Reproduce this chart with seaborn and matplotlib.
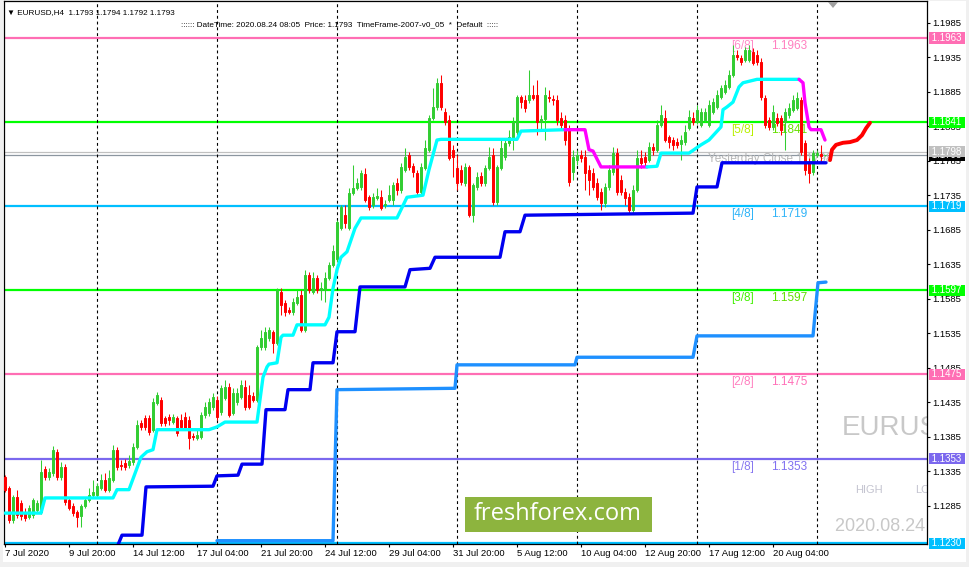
import numpy as np
import pandas as pd
import matplotlib
matplotlib.use('Agg')
import matplotlib.pyplot as plt
import matplotlib.transforms as mtransforms
from matplotlib.patches import Rectangle, Polygon
import seaborn as sns

sns.set_style('white')
plt.rcParams['font.family'] = ['Liberation Sans', 'DejaVu Sans']

# EURUSD H4 candles, bar 1 = 7 Jul 2020 04:00 (bar index, no weekend gaps)
opens = [1.1326, 1.1310, 1.1264, 1.1297, 1.1289, 1.1276, 1.1268, 1.1271, 1.1279, 1.1276,
         1.1338, 1.1326, 1.1332, 1.1363, 1.1326, 1.1341, 1.1293, 1.1284, 1.1276, 1.1270,
         1.1284, 1.1293, 1.1300, 1.1300, 1.1310, 1.1322, 1.1308, 1.1322, 1.1366, 1.1344,
         1.1347, 1.1344, 1.1348, 1.1370, 1.1405, 1.1412, 1.1412, 1.1395, 1.1434, 1.1438,
         1.1412, 1.1413, 1.1406, 1.1412, 1.1409, 1.1413, 1.1409, 1.1386, 1.1383, 1.1384,
         1.1416, 1.1419, 1.1428, 1.1438, 1.1421, 1.1441, 1.1457, 1.1419, 1.1435, 1.1442,
         1.1457, 1.1445, 1.1444, 1.1438, 1.1515, 1.1515, 1.1528, 1.1537, 1.1521, 1.1595,
         1.1579, 1.1569, 1.1566, 1.1579, 1.1590, 1.1540, 1.1619, 1.1595, 1.1615, 1.1598,
         1.1598, 1.1615, 1.1634, 1.1642, 1.1687, 1.1706, 1.1687, 1.1738, 1.1745, 1.1747,
         1.1766, 1.1732, 1.1721, 1.1731, 1.1732, 1.1721, 1.1728, 1.1728, 1.1753, 1.1743,
         1.1772, 1.1793, 1.1777, 1.1767, 1.1740, 1.1774, 1.1801, 1.1847, 1.1863, 1.1898,
         1.1856, 1.1844, 1.1801, 1.1774, 1.1772, 1.1753, 1.1776, 1.1706, 1.1747, 1.1763,
         1.1753, 1.1774, 1.1793, 1.1725, 1.1774, 1.1790, 1.1811, 1.1815, 1.1827, 1.1877,
         1.1873, 1.1873, 1.1880, 1.1880, 1.1841, 1.1845, 1.1877, 1.1874, 1.1873, 1.1847,
         1.1844, 1.1830, 1.1769, 1.1786, 1.1793, 1.1790, 1.1772, 1.1767, 1.1753, 1.1740,
         1.1724, 1.1747, 1.1769, 1.1796, 1.1757, 1.1740, 1.1732, 1.1714, 1.1743, 1.1789,
         1.1790, 1.1786, 1.1805, 1.1801, 1.1837, 1.1847, 1.1819, 1.1815, 1.1812, 1.1809,
         1.1812, 1.1832, 1.1847, 1.1841, 1.1837, 1.1844, 1.1837, 1.1856, 1.1863, 1.1877,
         1.1885, 1.1892, 1.1909, 1.1938, 1.1934, 1.1931, 1.1931, 1.1943, 1.1938, 1.1928,
         1.1876, 1.1844, 1.1834, 1.1847, 1.1847, 1.1841, 1.1851, 1.1859, 1.1861, 1.1873,
         1.1811, 1.1782, 1.1769, 1.1793, 1.1795, 1.1793]
highs = [1.1329, 1.1313, 1.1300, 1.1308, 1.1293, 1.1281, 1.1286, 1.1296, 1.1293, 1.1351,
         1.1342, 1.1339, 1.1371, 1.1367, 1.1348, 1.1345, 1.1297, 1.1289, 1.1279, 1.1287,
         1.1297, 1.1310, 1.1322, 1.1318, 1.1331, 1.1332, 1.1337, 1.1373, 1.1370, 1.1351,
         1.1352, 1.1358, 1.1376, 1.1409, 1.1409, 1.1416, 1.1416, 1.1441, 1.1450, 1.1442,
         1.1415, 1.1418, 1.1418, 1.1415, 1.1418, 1.1421, 1.1415, 1.1390, 1.1395, 1.1421,
         1.1435, 1.1441, 1.1448, 1.1444, 1.1460, 1.1467, 1.1463, 1.1455, 1.1455, 1.1467,
         1.1467, 1.1460, 1.1450, 1.1518, 1.1540, 1.1544, 1.1544, 1.1540, 1.1600, 1.1600,
         1.1583, 1.1573, 1.1586, 1.1598, 1.1598, 1.1627, 1.1624, 1.1624, 1.1619, 1.1609,
         1.1624, 1.1638, 1.1663, 1.1699, 1.1721, 1.1721, 1.1745, 1.1779, 1.1760, 1.1772,
         1.1774, 1.1735, 1.1738, 1.1745, 1.1743, 1.1728, 1.1750, 1.1754, 1.1760, 1.1782,
         1.1803, 1.1798, 1.1782, 1.1772, 1.1782, 1.1815, 1.1851, 1.1890, 1.1905, 1.1909,
         1.1861, 1.1851, 1.1808, 1.1793, 1.1779, 1.1782, 1.1779, 1.1753, 1.1769, 1.1769,
         1.1779, 1.1805, 1.1803, 1.1779, 1.1815, 1.1818, 1.1830, 1.1848, 1.1880, 1.1880,
         1.1880, 1.1917, 1.1895, 1.1902, 1.1851, 1.1892, 1.1888, 1.1880, 1.1880, 1.1856,
         1.1851, 1.1837, 1.1801, 1.1801, 1.1801, 1.1801, 1.1779, 1.1774, 1.1760, 1.1745,
         1.1753, 1.1779, 1.1805, 1.1803, 1.1764, 1.1745, 1.1738, 1.1750, 1.1801, 1.1801,
         1.1798, 1.1812, 1.1811, 1.1844, 1.1866, 1.1859, 1.1822, 1.1819, 1.1818, 1.1822,
         1.1837, 1.1859, 1.1856, 1.1866, 1.1861, 1.1861, 1.1873, 1.1876, 1.1888, 1.1895,
         1.1902, 1.1917, 1.1953, 1.1946, 1.1938, 1.1950, 1.1953, 1.1948, 1.1946, 1.1934,
         1.1880, 1.1848, 1.1866, 1.1854, 1.1851, 1.1861, 1.1869, 1.1880, 1.1885, 1.1877,
         1.1815, 1.1789, 1.1801, 1.1801, 1.1808, 1.1794]
lows = [1.1305, 1.1260, 1.1260, 1.1267, 1.1264, 1.1263, 1.1265, 1.1267, 1.1276, 1.1273,
        1.1322, 1.1322, 1.1328, 1.1322, 1.1322, 1.1286, 1.1279, 1.1270, 1.1254, 1.1254,
        1.1281, 1.1290, 1.1297, 1.1296, 1.1308, 1.1305, 1.1305, 1.1319, 1.1337, 1.1337,
        1.1337, 1.1339, 1.1344, 1.1367, 1.1395, 1.1395, 1.1387, 1.1392, 1.1431, 1.1400,
        1.1400, 1.1402, 1.1403, 1.1386, 1.1395, 1.1395, 1.1367, 1.1380, 1.1380, 1.1381,
        1.1412, 1.1415, 1.1424, 1.1409, 1.1416, 1.1438, 1.1413, 1.1416, 1.1431, 1.1439,
        1.1424, 1.1425, 1.1435, 1.1435, 1.1511, 1.1511, 1.1524, 1.1506, 1.1518, 1.1561,
        1.1560, 1.1563, 1.1561, 1.1576, 1.1537, 1.1537, 1.1593, 1.1592, 1.1593, 1.1583,
        1.1580, 1.1612, 1.1631, 1.1638, 1.1685, 1.1687, 1.1685, 1.1735, 1.1743, 1.1743,
        1.1725, 1.1714, 1.1716, 1.1728, 1.1714, 1.1716, 1.1725, 1.1721, 1.1735, 1.1738,
        1.1769, 1.1772, 1.1761, 1.1735, 1.1735, 1.1772, 1.1798, 1.1844, 1.1859, 1.1859,
        1.1837, 1.1786, 1.1761, 1.1743, 1.1750, 1.1748, 1.1703, 1.1696, 1.1743, 1.1748,
        1.1748, 1.1772, 1.1721, 1.1721, 1.1772, 1.1786, 1.1806, 1.1801, 1.1822, 1.1861,
        1.1856, 1.1869, 1.1873, 1.1822, 1.1830, 1.1815, 1.1870, 1.1866, 1.1837, 1.1830,
        1.1808, 1.1748, 1.1757, 1.1779, 1.1783, 1.1743, 1.1735, 1.1743, 1.1728, 1.1714,
        1.1718, 1.1743, 1.1764, 1.1735, 1.1735, 1.1721, 1.1709, 1.1709, 1.1740, 1.1774,
        1.1776, 1.1783, 1.1793, 1.1798, 1.1834, 1.1812, 1.1803, 1.1801, 1.1803, 1.1786,
        1.1808, 1.1830, 1.1837, 1.1838, 1.1834, 1.1841, 1.1834, 1.1853, 1.1860, 1.1874,
        1.1882, 1.1889, 1.1906, 1.1931, 1.1924, 1.1928, 1.1928, 1.1924, 1.1924, 1.1873,
        1.1832, 1.1830, 1.1830, 1.1835, 1.1822, 1.1801, 1.1847, 1.1856, 1.1859, 1.1793,
        1.1764, 1.1753, 1.1764, 1.1790, 1.1783, 1.1792]
closes = [1.1308, 1.1264, 1.1297, 1.1271, 1.1270, 1.1267, 1.1281, 1.1293, 1.1289, 1.1334,
          1.1326, 1.1334, 1.1366, 1.1326, 1.1341, 1.1290, 1.1281, 1.1274, 1.1268, 1.1284,
          1.1293, 1.1300, 1.1305, 1.1313, 1.1322, 1.1308, 1.1325, 1.1366, 1.1341, 1.1342,
          1.1341, 1.1350, 1.1370, 1.1402, 1.1399, 1.1399, 1.1392, 1.1435, 1.1445, 1.1405,
          1.1405, 1.1409, 1.1413, 1.1390, 1.1399, 1.1397, 1.1383, 1.1384, 1.1387, 1.1416,
          1.1428, 1.1435, 1.1442, 1.1413, 1.1455, 1.1457, 1.1416, 1.1448, 1.1448, 1.1460,
          1.1428, 1.1428, 1.1438, 1.1515, 1.1528, 1.1537, 1.1540, 1.1521, 1.1598, 1.1576,
          1.1566, 1.1566, 1.1580, 1.1587, 1.1540, 1.1619, 1.1598, 1.1615, 1.1598, 1.1600,
          1.1615, 1.1634, 1.1654, 1.1696, 1.1718, 1.1695, 1.1738, 1.1745, 1.1753, 1.1767,
          1.1728, 1.1718, 1.1732, 1.1734, 1.1716, 1.1722, 1.1735, 1.1750, 1.1743, 1.1776,
          1.1790, 1.1776, 1.1769, 1.1740, 1.1776, 1.1803, 1.1847, 1.1863, 1.1898, 1.1863,
          1.1841, 1.1789, 1.1790, 1.1753, 1.1754, 1.1776, 1.1706, 1.1750, 1.1761, 1.1753,
          1.1774, 1.1790, 1.1725, 1.1776, 1.1803, 1.1811, 1.1819, 1.1841, 1.1877, 1.1870,
          1.1861, 1.1880, 1.1876, 1.1841, 1.1845, 1.1880, 1.1876, 1.1873, 1.1844, 1.1837,
          1.1815, 1.1754, 1.1790, 1.1793, 1.1789, 1.1767, 1.1757, 1.1747, 1.1732, 1.1724,
          1.1747, 1.1772, 1.1796, 1.1740, 1.1740, 1.1731, 1.1714, 1.1743, 1.1789, 1.1782,
          1.1783, 1.1805, 1.1801, 1.1837, 1.1851, 1.1815, 1.1812, 1.1808, 1.1808, 1.1815,
          1.1827, 1.1848, 1.1841, 1.1859, 1.1856, 1.1856, 1.1866, 1.1870, 1.1880, 1.1890,
          1.1895, 1.1909, 1.1938, 1.1935, 1.1928, 1.1946, 1.1946, 1.1927, 1.1928, 1.1877,
          1.1837, 1.1834, 1.1856, 1.1840, 1.1830, 1.1856, 1.1861, 1.1873, 1.1876, 1.1798,
          1.1772, 1.1767, 1.1796, 1.1796, 1.1792, 1.1793]

# trailing stop line: cyan while long, magenta while short
trail_a_x = [1, 10, 11, 28, 29, 32, 35, 36.5, 38, 39, 52, 54, 56, 64, 65.5, 66.5, 67, 69, 70, 70.5,
             73, 74, 81, 82, 83, 84, 85, 86.5, 88.5, 90, 99, 101.5, 105.5, 107, 109, 110, 129, 130, 141]
trail_a_y = [1.1274, 1.1274, 1.1296, 1.1296, 1.1308, 1.1308, 1.1355, 1.1363, 1.1366, 1.1395,
             1.1395, 1.1399, 1.1406, 1.1406, 1.1471, 1.1486, 1.1490, 1.1492, 1.1529, 1.1532,
             1.1532, 1.1547, 1.1547, 1.1558, 1.1600, 1.1627, 1.1645, 1.1653, 1.1687, 1.1702,
             1.1702, 1.1732, 1.1735, 1.1772, 1.1815, 1.1816, 1.1816, 1.1828, 1.1830]
trail_b_x = [141, 146, 147, 148, 150, 161.5]
trail_b_y = [1.1830, 1.1830, 1.1801, 1.1799, 1.1776, 1.1776]
trail_c_x = [161.5, 164, 165, 172, 175, 177, 180, 180.5, 181.5, 183, 184.5, 185.5, 189, 199.5]
trail_c_y = [1.1776, 1.1777, 1.1796, 1.1796, 1.1808, 1.1815, 1.1834, 1.1859, 1.1863, 1.1870,
             1.1892, 1.1898, 1.1903, 1.1903]
trail_d_x = [199.5, 200.5, 201, 202, 202.5, 205, 206]
trail_d_y = [1.1903, 1.1898, 1.1869, 1.1834, 1.1830, 1.1830, 1.1815]

# blue and dodger blue step levels
blue_x = [29.25, 30.25, 35.25, 36.25, 53, 54, 59.25, 60.25, 65.25, 66.25, 71, 71.75, 77.25, 78, 83,
          84, 88.5, 89.75, 101, 102.25, 107.25, 108.5, 124.75, 126, 129.75, 131, 173, 174, 179,
          180.25, 206.25]
blue_y = [1.1228, 1.1242, 1.1242, 1.1312, 1.1313, 1.1328, 1.1329, 1.1345, 1.1345, 1.1424,
          1.1424, 1.1453, 1.1453, 1.1492, 1.1492, 1.1537, 1.1537, 1.1602, 1.1602, 1.1627,
          1.1629, 1.1645, 1.1645, 1.1682, 1.1682, 1.1706, 1.1709, 1.1747, 1.1747, 1.1782, 1.1782]
dodger_x = [54, 83, 84, 113.5, 114, 143.5, 144, 173, 174, 203, 204.25, 206.25]
dodger_y = [1.1234, 1.1234, 1.1453, 1.1455, 1.1489, 1.1489, 1.1500, 1.1500, 1.1531, 1.1531,
            1.1608, 1.1609]

# forecast curve
fc_x = [207.25, 207.75, 208.75, 210.5, 212.25, 214, 215.25, 216.25, 217.25]
fc_y = [1.1786, 1.1801, 1.1808, 1.1811, 1.1812, 1.1815, 1.1822, 1.1832, 1.1840]

# Murrey Math levels
mm_levels = [1.1963, 1.1841, 1.1719, 1.1597, 1.1475, 1.1353, 1.1230]
mm_names = ['[6/8]', '[5/8]', '[4/8]', '[3/8]', '[2/8]', '[1/8]']
mm_colors = ['#FF6EB4', '#00FF00', '#00BFFF', '#00FF00', '#FF6EB4', '#7B68EE', '#00BFFF']
mm_name_colors = ['#FF8CC8', '#B8F000', '#30B4F8', '#40F000', '#FF80C0', '#8878F0']
mm_val_colors = ['#FF80C0', '#66E000', '#30B4F8', '#60E000', '#FF70B8', '#8070F0']
yest_close = 1.1798
bid = 1.1793

week_starts = [24, 54, 84, 114, 144, 174, 204]
xtick_pos = [1, 17, 33, 49, 65, 81, 97, 113, 129, 145, 161, 177, 193]
xtick_labels = ['7 Jul 2020', '9 Jul 20:00', '14 Jul 12:00', '17 Jul 04:00', '21 Jul 20:00',
                '24 Jul 12:00', '29 Jul 04:00', '31 Jul 20:00', '5 Aug 12:00', '10 Aug 04:00',
                '12 Aug 20:00', '17 Aug 12:00', '20 Aug 04:00']
ytick_pos = [1.1285, 1.1335, 1.1385, 1.1435, 1.1485, 1.1535, 1.1585, 1.1635, 1.1685, 1.1735,
             1.1785, 1.1835, 1.1885, 1.1935, 1.1985]

# ---- figure ----
fig = plt.figure(figsize=(9.7, 5.67), dpi=100, facecolor='#F0F0F0')
fig.patches.append(Rectangle((3 / 970, 5 / 567), 963 / 970, 561 / 567, transform=fig.transFigure,
                             fc='white', ec='none', zorder=-5))
ax = fig.add_axes([4 / 970, 23 / 567, 923 / 970, 543 / 567])
ax.set_facecolor('white')
ax.set_xlim(0.75, 231.5)
ax.set_ylim(1.12292, 1.20166)

for lv, c in zip(mm_levels, mm_colors):
    ax.axhline(lv, color=c, lw=1.6, zorder=1.5)
ax.axhline(yest_close, color='#C0C0C0', lw=0.9, zorder=1.6)
ax.axhline(bid, color='#8C96A0', lw=0.9, zorder=1.6)
for w in week_starts:
    ax.axvline(w, color='black', lw=0.8, ls=(0, (2.6, 2.6)), zorder=1.7)

# labels under the levels
for lv, nm, c1, c2 in zip(mm_levels, mm_names, mm_name_colors, mm_val_colors):
    ax.annotate(nm, (182.5, lv), xytext=(0, -8), textcoords='offset pixels', color=c1,
                fontsize=8.5, ha='left', va='center', zorder=2)
    ax.annotate(f'{lv:.4f}', (192.5, lv), xytext=(0, -8), textcoords='offset pixels', color=c2,
                fontsize=8.5, ha='left', va='center', zorder=2)
ax.annotate(f'Yesterday Close {yest_close:.4f}', (176.75, yest_close), xytext=(0, -7),
            textcoords='offset pixels', color='#B8B8B8', fontsize=8.5, ha='left', va='center',
            zorder=2)

# candles
bars = np.arange(1, len(closes) + 1)
o = np.array(opens)
c = np.array(closes)
up = c >= o
col = np.where(up, '#32CD32', '#FF0000')
ax.vlines(bars, lows, highs, colors=col, lw=0.75, zorder=3)
ax.bar(bars, c - o, bottom=o, width=0.55, color=col, edgecolor=col, linewidth=0.7, zorder=4)

# indicator lines
trail = pd.DataFrame({
    'x': trail_a_x + trail_b_x + trail_c_x + trail_d_x,
    'y': trail_a_y + trail_b_y + trail_c_y + trail_d_y,
    'seg': ['a'] * len(trail_a_x) + ['b'] * len(trail_b_x) + ['c'] * len(trail_c_x) + ['d'] * len(trail_d_x),
})
sns.lineplot(data=trail, x='x', y='y', hue='seg', sort=False, estimator=None, legend=False,
             palette={'a': '#00FFFF', 'b': '#FF00FF', 'c': '#00FFFF', 'd': '#FF00FF'},
             lw=2.4, ax=ax, zorder=5)
sns.lineplot(x=blue_x, y=blue_y, sort=False, estimator=None, color='#0000F0', lw=2.4, ax=ax, zorder=5)
sns.lineplot(x=dodger_x, y=dodger_y, sort=False, estimator=None, color='#1E90FF', lw=2.4, ax=ax, zorder=5)
sns.lineplot(x=fc_x, y=fc_y, sort=False, estimator=None, color='#FF0000', lw=2.8, ax=ax, zorder=5,
             solid_capstyle='round')

# watermark texts
ax.text(210.25, 1.1397, 'EURUSD', fontsize=20, color='#C8C8C8', ha='left', va='center',
        clip_on=True, zorder=1)
ax.text(213.5, 1.1308, 'HIGH', fontsize=8, color='#C4C4D0', ha='left', va='center', clip_on=True, zorder=1)
ax.text(228.5, 1.1308, 'LOW', fontsize=8, color='#C4C4D0', ha='left', va='center', clip_on=True, zorder=1)
ax.text(208.5, 1.1254, '2020.08.24 08:05', fontsize=13, color='#C8C8C8', ha='left', va='center',
        clip_on=True, zorder=1)

# axes
for s in ax.spines.values():
    s.set_color('black')
    s.set_linewidth(0.9)
ax.yaxis.tick_right()
ax.set_yticks(ytick_pos)
ax.set_yticklabels([f'{v:.4f}' for v in ytick_pos])
ax.set_xticks(xtick_pos)
ax.set_xticklabels(xtick_labels)
for lbl in ax.get_xticklabels():
    lbl.set_ha('left')
ax.tick_params(axis='both', which='both', direction='out', length=2.3, width=0.8, color='black',
               labelsize=6.8, labelcolor='black', pad=1.5)
ax.tick_params(axis='y', right=True, left=False)
ax.tick_params(axis='x', bottom=True)
ax.set_xlabel('')
ax.set_ylabel('')

# price boxes on the right scale
trans = mtransforms.blended_transform_factory(ax.transAxes, ax.transData) + \
    mtransforms.ScaledTranslation(2.5 / 100, 0, fig.dpi_scale_trans)
box_levels = mm_levels + [bid, yest_close]
box_colors = mm_colors + ['black', '#C0C0C0']
for lv, bc in zip(box_levels, box_colors):
    ax.text(1.0, lv, f' {lv:.4f} ', transform=trans, ha='left', va='center', color='white',
            fontsize=7, clip_on=False, zorder=10,
            bbox=dict(boxstyle='square,pad=0.06', fc=bc, ec='none'))

# header
fig.text(7 / 970, 1 - 13 / 567, '\u25BC EURUSD,H4  1.1793 1.1794 1.1792 1.1793', fontsize=5.9,
         ha='left', va='center', color='black')
fig.text(181 / 970, 1 - 25 / 567,
         ':::::: DateTime: 2020.08.24 08:05  Price: 1.1793  TimeFrame-2007-v0_05  *  Default  :::::',
         fontsize=5.9, ha='left', va='center', color='black')
fig.patches.append(Polygon([[828, 565], [838, 565], [833, 559]], closed=True, transform=None,
                           fc='#A0A0A0', ec='none'))

# freshforex logo
fig.patches.append(Rectangle((465, 567 - 532), 187, 35, transform=None, fc='#8DB43E', ec='none', zorder=20))
fig.text(558 / 970, 1 - 514 / 567, 'freshforex.com', fontsize=17, color='white', ha='center',
         va='center', family=['Open Sans', 'DejaVu Sans'], zorder=21)

fig.savefig('out.png', dpi=100, facecolor=fig.get_facecolor())
